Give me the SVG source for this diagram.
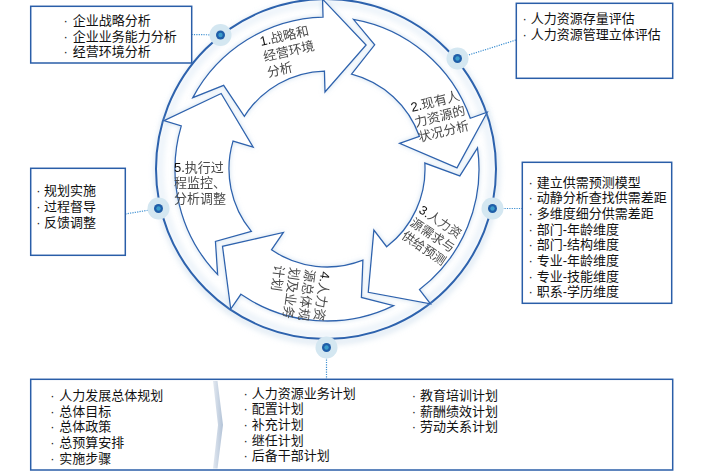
<svg xmlns="http://www.w3.org/2000/svg" width="702" height="476" viewBox="0 0 702 476">
<defs>
<style>
.box{fill:#fff;stroke:#2a5ea8;stroke-width:1.5}
.bt{font-family:"Liberation Sans","Noto Sans CJK SC",sans-serif;font-size:13px;fill:#111}
.bl{fill:#222}
.at{font-family:"Liberation Sans","Noto Sans CJK SC",sans-serif;font-size:13px;fill:#4a4a4a}
.num{fill:#111}
.arw{fill:#fff;stroke:#2e63ae;stroke-width:1.3;stroke-linejoin:miter}
.conn{stroke:#3d8fd1;stroke-width:1.2;stroke-dasharray:1.2 1.2;fill:none}
.halo{fill:#d4e7f1}
.dot{fill:#1f5ea8}
.dotc{fill:#3a9ccb}
</style>
<filter id="glow" x="-20%" y="-20%" width="140%" height="140%">
<feGaussianBlur in="SourceAlpha" stdDeviation="2.5" result="b"/>
<feFlood flood-color="#a7c8e3" flood-opacity="0.55"/>
<feComposite in2="b" operator="in" result="s"/>
<feMerge><feMergeNode in="s"/><feMergeNode in="SourceGraphic"/></feMerge>
</filter>
<filter id="soft" x="-20%" y="-20%" width="140%" height="140%">
<feGaussianBlur stdDeviation="3"/>
</filter>
<linearGradient id="chev" x1="0" y1="0" x2="1" y2="0">
<stop offset="0" stop-color="#e3e9f1"/>
<stop offset="1" stop-color="#b3c3d7"/>
</linearGradient>
<path id="arrowShape" d="M192.79,97.64 A152,152 0 0 1 323.02,17.05 L322.55,-0.94 L366.09,45.02 L324.98,92.03 L324.43,71.03 A98,98 0 0 0 244.35,116.34 L223.64,85.30 Z"/>
</defs>
<rect width="702" height="476" fill="#fff"/>

<g id="ring">
<circle cx="327" cy="172" r="170" fill="none" stroke="#c2d6e8" stroke-width="3" filter="url(#soft)"/>
<circle cx="326" cy="169" r="170" fill="#fff"/>
<circle cx="326" cy="169" r="166" fill="none" stroke="#e4eef7" stroke-width="5" filter="url(#soft)"/>
<circle cx="326" cy="169" r="170" fill="none" stroke="#2d62ad" stroke-width="2"/>
</g>

<g id="step1" filter="url(#glow)">
<use href="#arrowShape" class="arw"/>
<text class="at" transform="translate(261,46) rotate(-13)"><tspan x="0" y="0"><tspan class="num">1.</tspan>战略和</tspan><tspan x="0" y="16">经营环境</tspan><tspan x="0" y="32">分析</tspan></text>
</g>
<g id="step2" filter="url(#glow)">
<use href="#arrowShape" class="arw" transform="rotate(72 327 169)"/>
<text class="at" transform="translate(412,112) rotate(-14)"><tspan x="0" y="0"><tspan class="num">2.</tspan>现有人</tspan><tspan x="0" y="15.5">力资源的</tspan><tspan x="0" y="31">状况分析</tspan></text>
</g>
<g id="step3" filter="url(#glow)">
<use href="#arrowShape" class="arw" transform="rotate(144 327 169)"/>
<text class="at" style="font-size:12.5px" transform="translate(418,212) rotate(34)"><tspan x="0" y="0"><tspan class="num">3.</tspan>人力资</tspan><tspan x="0" y="15.5">源需求与</tspan><tspan x="0" y="31">供给预测</tspan></text>
</g>
<g id="step4" filter="url(#glow)">
<use href="#arrowShape" class="arw" transform="rotate(216 327 169)"/>
<text class="at" transform="translate(321,271) rotate(98)"><tspan x="0" y="0"><tspan class="num">4.</tspan>人力资</tspan><tspan x="0" y="15.5">源总体规</tspan><tspan x="0" y="31">划及业务</tspan><tspan x="0" y="46.5">计划</tspan></text>
</g>
<g id="step5" filter="url(#glow)">
<use href="#arrowShape" class="arw" transform="rotate(288 327 169)"/>
<text class="at" transform="translate(174,171.5)"><tspan x="0" y="0"><tspan class="num">5.</tspan>执行过</tspan><tspan x="0" y="15.8">程监控、</tspan><tspan x="0" y="31.6">分析调整</tspan></text>
</g>

<g id="connectors">
<line class="conn" x1="191.5" y1="34.5" x2="220.5" y2="35"/>
<line class="conn" x1="457.5" y1="58.5" x2="516" y2="40"/>
<line class="conn" x1="125.3" y1="214" x2="158.5" y2="208.5"/>
<line class="conn" x1="492.5" y1="208.5" x2="522.3" y2="208.5"/>
<line class="conn" x1="326.5" y1="347.5" x2="326.5" y2="379.3"/>
</g>

<g id="dots">
<circle class="halo" cx="220.5" cy="35" r="11"/><circle class="dot" cx="220.5" cy="35" r="4.5"/><circle class="dotc" cx="220.5" cy="35" r="2.2"/>
<circle class="halo" cx="457.5" cy="58.5" r="11"/><circle class="dot" cx="457.5" cy="58.5" r="4.5"/><circle class="dotc" cx="457.5" cy="58.5" r="2.2"/>
<circle class="halo" cx="158.5" cy="208.5" r="11"/><circle class="dot" cx="158.5" cy="208.5" r="4.5"/><circle class="dotc" cx="158.5" cy="208.5" r="2.2"/>
<circle class="halo" cx="492.5" cy="208.5" r="11"/><circle class="dot" cx="492.5" cy="208.5" r="4.5"/><circle class="dotc" cx="492.5" cy="208.5" r="2.2"/>
<circle class="halo" cx="326.5" cy="347.5" r="11"/><circle class="dot" cx="326.5" cy="347.5" r="4.5"/><circle class="dotc" cx="326.5" cy="347.5" r="2.2"/>
</g>

<g id="boxA">
<rect class="box" x="30.7" y="6.3" width="161" height="56.7"/>
<text class="bt" y="25"><tspan class="bl" x="63.5">·</tspan><tspan x="72.7">企业战略分析</tspan></text>
<text class="bt" y="40.5"><tspan class="bl" x="63.5">·</tspan><tspan x="72.7">企业业务能力分析</tspan></text>
<text class="bt" y="56"><tspan class="bl" x="63.5">·</tspan><tspan x="72.7">经营环境分析</tspan></text>
</g>

<g id="boxB">
<rect class="box" x="516.3" y="3.3" width="156.4" height="75"/>
<text class="bt" y="23"><tspan class="bl" x="522.5">·</tspan><tspan x="530.7">人力资源存量评估</tspan></text>
<text class="bt" y="39"><tspan class="bl" x="522.5">·</tspan><tspan x="530.7">人力资源管理立体评估</tspan></text>
</g>

<g id="boxC">
<rect class="box" x="30.7" y="168.3" width="94.6" height="87"/>
<text class="bt" y="195"><tspan class="bl" x="36.2">·</tspan><tspan x="44">规划实施</tspan></text>
<text class="bt" y="210.7"><tspan class="bl" x="36.2">·</tspan><tspan x="44">过程督导</tspan></text>
<text class="bt" y="226.5"><tspan class="bl" x="36.2">·</tspan><tspan x="44">反馈调整</tspan></text>
</g>

<g id="boxD">
<rect class="box" x="522.3" y="162.3" width="149.4" height="141"/>
<text class="bt" y="186.5"><tspan class="bl" x="528.5">·</tspan><tspan x="536.7">建立供需预测模型</tspan></text>
<text class="bt" y="202.2"><tspan class="bl" x="528.5">·</tspan><tspan x="536.7">动静分析查找供需差距</tspan></text>
<text class="bt" y="217.9"><tspan class="bl" x="528.5">·</tspan><tspan x="536.7">多维度细分供需差距</tspan></text>
<text class="bt" y="233.6"><tspan class="bl" x="528.5">·</tspan><tspan x="536.7">部门-年龄维度</tspan></text>
<text class="bt" y="249.3"><tspan class="bl" x="528.5">·</tspan><tspan x="536.7">部门-结构维度</tspan></text>
<text class="bt" y="265"><tspan class="bl" x="528.5">·</tspan><tspan x="536.7">专业-年龄维度</tspan></text>
<text class="bt" y="280.7"><tspan class="bl" x="528.5">·</tspan><tspan x="536.7">专业-技能维度</tspan></text>
<text class="bt" y="296.4"><tspan class="bl" x="528.5">·</tspan><tspan x="536.7">职系-学历维度</tspan></text>
</g>

<g id="boxE">
<rect class="box" x="30.7" y="379.3" width="642" height="90.7"/>
<polygon points="213,381 217.5,381 223,425 217.5,468.5 213,468.5 218,425" fill="url(#chev)"/>
<text class="bt" y="400"><tspan class="bl" x="50.2">·</tspan><tspan x="59.3">人力发展总体规划</tspan></text>
<text class="bt" y="415.7"><tspan class="bl" x="50.2">·</tspan><tspan x="59.3">总体目标</tspan></text>
<text class="bt" y="431.4"><tspan class="bl" x="50.2">·</tspan><tspan x="59.3">总体政策</tspan></text>
<text class="bt" y="447.1"><tspan class="bl" x="50.2">·</tspan><tspan x="59.3">总预算安排</tspan></text>
<text class="bt" y="462.8"><tspan class="bl" x="50.2">·</tspan><tspan x="59.3">实施步骤</tspan></text>
<text class="bt" y="397.5"><tspan class="bl" x="243.5">·</tspan><tspan x="251.7">人力资源业务计划</tspan></text>
<text class="bt" y="413.2"><tspan class="bl" x="243.5">·</tspan><tspan x="251.7">配置计划</tspan></text>
<text class="bt" y="428.9"><tspan class="bl" x="243.5">·</tspan><tspan x="251.7">补充计划</tspan></text>
<text class="bt" y="444.6"><tspan class="bl" x="243.5">·</tspan><tspan x="251.7">继任计划</tspan></text>
<text class="bt" y="460.3"><tspan class="bl" x="243.5">·</tspan><tspan x="251.7">后备干部计划</tspan></text>
<text class="bt" y="400"><tspan class="bl" x="411.8">·</tspan><tspan x="420">教育培训计划</tspan></text>
<text class="bt" y="415.7"><tspan class="bl" x="411.8">·</tspan><tspan x="420">薪酬绩效计划</tspan></text>
<text class="bt" y="431.4"><tspan class="bl" x="411.8">·</tspan><tspan x="420">劳动关系计划</tspan></text>
</g>
</svg>
